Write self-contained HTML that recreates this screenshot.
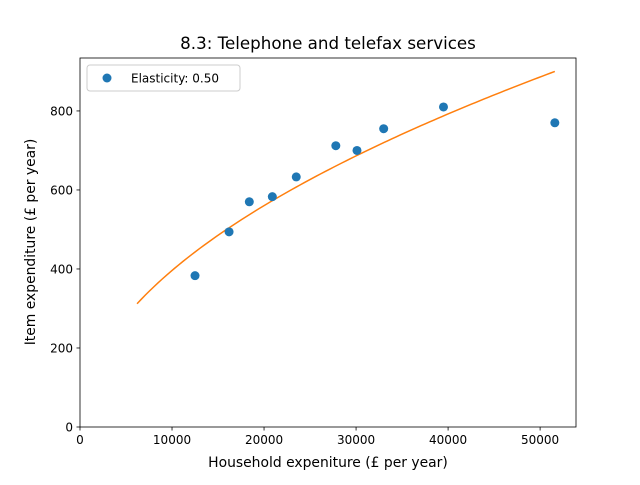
<!DOCTYPE html>
<html><head><meta charset="utf-8"><style>
body{margin:0;background:#fff;}
svg{font-family:"DejaVu Sans","Liberation Sans",sans-serif;}
</style></head><body>
<svg id="chart" width="640" height="480" viewBox="0 0 640 480">
<rect width="640" height="480" fill="#fff"/>
<text x="328" y="49" font-size="16.7" text-anchor="middle">8.3: Telephone and telefax services</text>
<g id="plot"></g>
<rect x="80" y="58" width="496" height="369" fill="none" stroke="#000" stroke-width="0.8"/>
<text x="328" y="467" font-size="13.9" text-anchor="middle">Household expeniture (£ per year)</text>
<text transform="translate(35,242) rotate(-90)" font-size="13.9" text-anchor="middle">Item expenditure (£ per year)</text>
<g>
<rect x="87" y="65" width="153" height="26" rx="3" fill="#fff" stroke="#ccc"/>
<circle cx="107" cy="78" r="4.5" fill="#1f77b4"/>
<text x="131" y="82.5" font-size="12">Elasticity: 0.50</text>
</g>
</svg>
<script>
const xTicks=[0,10000,20000,30000,40000,50000];
const yTicks=[0,200,400,600,800];
const incomes=[12500,16200,18400,20900,23500,27800,30100,33000,39500,51600];
const spend=[383,494,570,583,633,712,700,755,810,770];
const elasticity=[0.5];
const fitRange=[6200,51600];
const fitScale=[3.962];
const X=v=>80+v*(496/53900);
const Y=v=>427-v*(369/934);
const NS="http://www.w3.org/2000/svg";
const g=document.getElementById('plot');
function mk(t,a){const e=document.createElementNS(NS,t);for(const k in a)e.setAttribute(k,a[k]);g.appendChild(e);return e;}
xTicks.forEach(v=>{
 const l=mk('line',{x1:X(v),x2:X(v),y1:427,y2:430.5,stroke:'#000','stroke-width':0.8});
 
 
 const t=mk('text',{x:X(v),y:444,'font-size':12,'text-anchor':'middle'});t.textContent=v;
 
 
});
yTicks.forEach(v=>{
 const l=mk('line',{x1:76.5,x2:80,y1:Y(v),y2:Y(v),stroke:'#000','stroke-width':0.8});
 
 
 const t=mk('text',{x:73,y:Y(v)+4.5,'font-size':12,'text-anchor':'end'});t.textContent=v;
 
 
});
let d='';
for(let i=0;i<=100;i++){const x=fitRange[0]+(fitRange[1]-fitRange[0])*i/100;const y=fitScale[0]*Math.pow(x,elasticity[0]);d+=(i?'L':'M')+X(x).toFixed(2)+','+Y(y).toFixed(2);}
const p=mk('path',{d:d,fill:'none',stroke:'#ff7f0e','stroke-width':1.5});


incomes.forEach((v,i)=>{
 const c=mk('circle',{cx:X(v),cy:Y(spend[i]),r:4.5,fill:'#1f77b4'});
 
 
});
</script>
</body></html>
